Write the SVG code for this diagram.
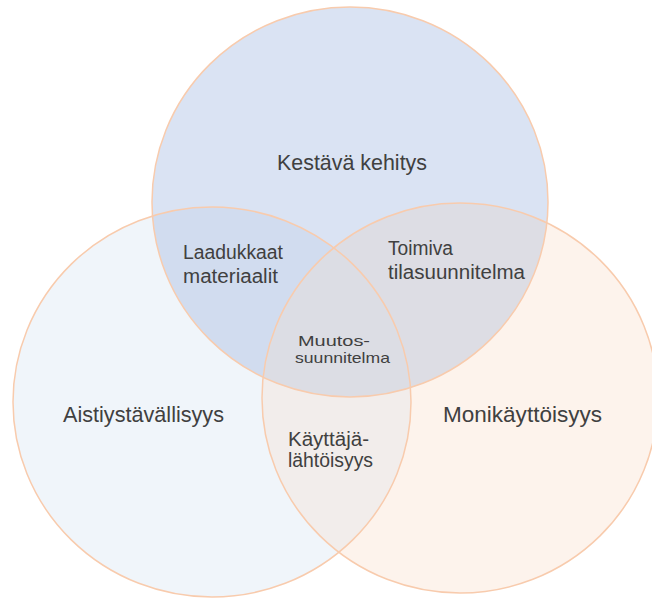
<svg xmlns="http://www.w3.org/2000/svg" width="652" height="598" viewBox="0 0 652 598">
<style>
.outline{fill:none;stroke:#F8CBAD;stroke-width:1.5}
.lbl{font-family:"Liberation Sans",Arial,sans-serif;fill:#404040}
</style>
<defs>
<clipPath id="cTop"><ellipse cx="350" cy="202" rx="198" ry="195"/></clipPath>
<clipPath id="cLeft"><ellipse cx="212" cy="402" rx="199" ry="195"/></clipPath>
<clipPath id="cRight"><ellipse cx="460" cy="398" rx="198" ry="195"/></clipPath>
</defs>
<rect width="652" height="598" fill="#FFFFFF"/>
<g id="fills">
<ellipse cx="350" cy="202" rx="198" ry="195" fill="#DAE3F3"/>
<ellipse cx="212" cy="402" rx="199" ry="195" fill="#F0F5FA"/>
<ellipse cx="460" cy="398" rx="198" ry="195" fill="#FDF3EC"/>
<g clip-path="url(#cTop)">
<ellipse cx="212" cy="402" rx="199" ry="195" fill="#D1DCEF"/>
<ellipse cx="460" cy="398" rx="198" ry="195" fill="#DDDDE4"/>
</g>
<g clip-path="url(#cLeft)">
<ellipse cx="460" cy="398" rx="198" ry="195" fill="#F2EDEB"/>
<g clip-path="url(#cTop)"><ellipse cx="460" cy="398" rx="198" ry="195" fill="#DCDDE4"/></g>
</g>
</g>
<g id="node-kestava">
<ellipse class="outline" cx="350" cy="202" rx="198" ry="195"/>
<text class="lbl" x="277" y="170" font-size="21.5" textLength="150" lengthAdjust="spacingAndGlyphs">Kestävä kehitys</text>
</g>
<g id="node-aisti">
<ellipse class="outline" cx="212" cy="402" rx="199" ry="195"/>
<text class="lbl" x="63" y="422" font-size="21.5" textLength="161" lengthAdjust="spacingAndGlyphs">Aistiystävällisyys</text>
</g>
<g id="node-moni">
<ellipse class="outline" cx="460" cy="398" rx="198" ry="195"/>
<text class="lbl" x="443" y="422" font-size="21.5" textLength="159" lengthAdjust="spacingAndGlyphs">Monikäyttöisyys</text>
</g>
<g id="node-laadukkaat">
<text class="lbl" x="183" y="259" font-size="19.5" textLength="100" lengthAdjust="spacingAndGlyphs">Laadukkaat</text>
<text class="lbl" x="183" y="283" font-size="19.5" textLength="95" lengthAdjust="spacingAndGlyphs">materiaalit</text>
</g>
<g id="node-toimiva">
<text class="lbl" x="388" y="255" font-size="19.5" textLength="65" lengthAdjust="spacingAndGlyphs">Toimiva</text>
<text class="lbl" x="388" y="279" font-size="19.5" textLength="137" lengthAdjust="spacingAndGlyphs">tilasuunnitelma</text>
</g>
<g id="node-muutos">
<text class="lbl" x="298" y="346" font-size="15" textLength="72" lengthAdjust="spacingAndGlyphs">Muutos-</text>
<text class="lbl" x="295" y="363" font-size="15" textLength="95" lengthAdjust="spacingAndGlyphs">suunnitelma</text>
</g>
<g id="node-kayttaja">
<text class="lbl" x="288" y="446" font-size="19.5" textLength="81" lengthAdjust="spacingAndGlyphs">Käyttäjä-</text>
<text class="lbl" x="288" y="467" font-size="19.5" textLength="85" lengthAdjust="spacingAndGlyphs">lähtöisyys</text>
</g>
<g id="connectors"/>
</svg>
